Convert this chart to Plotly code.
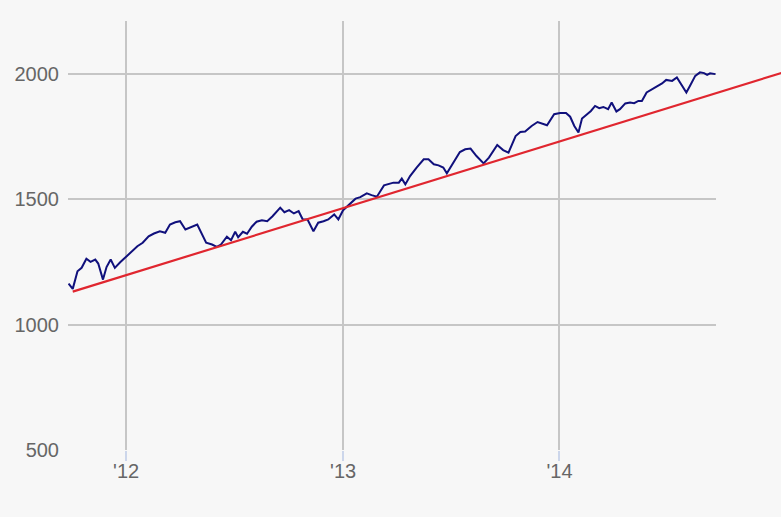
import pandas as pd
import plotly.graph_objects as go

# index values (roughly weekly)
dates = [
    "2011-09-26", "2011-10-03", "2011-10-11", "2011-10-18", "2011-10-26", "2011-11-02",
    "2011-11-10", "2011-11-15", "2011-11-23", "2011-11-29", "2011-12-06", "2011-12-13",
    "2011-12-22", "2012-01-01", "2012-01-11", "2012-01-20", "2012-01-29", "2012-02-08",
    "2012-02-17", "2012-02-27", "2012-03-07", "2012-03-15", "2012-03-24", "2012-04-01",
    "2012-04-10", "2012-04-21", "2012-04-30", "2012-05-15", "2012-05-25", "2012-06-02",
    "2012-06-09", "2012-06-19", "2012-06-26", "2012-07-03", "2012-07-08", "2012-07-16",
    "2012-07-23", "2012-07-31", "2012-08-08", "2012-08-17", "2012-08-26", "2012-09-04",
    "2012-09-17", "2012-09-24", "2012-10-02", "2012-10-10", "2012-10-18", "2012-10-25",
    "2012-11-02", "2012-11-12", "2012-11-20", "2012-11-29", "2012-12-07", "2012-12-17",
    "2012-12-24", "2013-01-01", "2013-01-12", "2013-01-22", "2013-01-30", "2013-02-10",
    "2013-02-18", "2013-02-27", "2013-03-11", "2013-03-19", "2013-03-27", "2013-04-05",
    "2013-04-10", "2013-04-16", "2013-04-24", "2013-05-05", "2013-05-17", "2013-05-25",
    "2013-06-03", "2013-06-11", "2013-06-19", "2013-06-25", "2013-07-06", "2013-07-17",
    "2013-07-26", "2013-08-04", "2013-08-14", "2013-08-26", "2013-09-04", "2013-09-18",
    "2013-09-28", "2013-10-07", "2013-10-19", "2013-10-27", "2013-11-04", "2013-11-15",
    "2013-11-25", "2013-12-05", "2013-12-11", "2013-12-23", "2014-01-02", "2014-01-12",
    "2014-01-19", "2014-01-26", "2014-02-02", "2014-02-08", "2014-02-16", "2014-02-23",
    "2014-03-02", "2014-03-09", "2014-03-16", "2014-03-24", "2014-03-30", "2014-04-07",
    "2014-04-13", "2014-04-22", "2014-04-30", "2014-05-07", "2014-05-14", "2014-05-20",
    "2014-05-28", "2014-06-06", "2014-06-14", "2014-06-23", "2014-06-30", "2014-07-10",
    "2014-07-18", "2014-07-26", "2014-08-03", "2014-08-09", "2014-08-18", "2014-08-26",
    "2014-09-02", "2014-09-07", "2014-09-12", "2014-09-21",
]
values = [
    1164, 1143, 1213, 1227, 1263, 1251,
    1260, 1244, 1180, 1230, 1260, 1227,
    1249, 1271, 1293, 1313, 1327, 1353,
    1364, 1373, 1367, 1400, 1409, 1413,
    1380, 1391, 1400, 1327, 1320, 1311,
    1320, 1351, 1337, 1371, 1349, 1371,
    1363, 1391, 1411, 1417, 1413, 1433,
    1467, 1449, 1457, 1444, 1453, 1420,
    1420, 1373, 1407, 1413, 1420, 1440,
    1420, 1457, 1480, 1503, 1509, 1524,
    1517, 1511, 1556, 1560, 1567, 1567,
    1583, 1560, 1593, 1627, 1660, 1660,
    1640, 1636, 1627, 1604, 1647, 1689,
    1700, 1703, 1673, 1644, 1667, 1717,
    1697, 1687, 1753, 1769, 1771, 1793,
    1809, 1800, 1796, 1840, 1845, 1845,
    1830, 1793, 1767, 1823, 1840, 1853,
    1873, 1864, 1869, 1860, 1887, 1851,
    1860, 1883, 1887, 1884, 1893, 1893,
    1927, 1940, 1953, 1963, 1977, 1973,
    1987, 1956, 1927, 1953, 1993, 2007,
    2004, 1997, 2003, 2000,
]

# trend line end points
trend_dates = ["2011-10-03", "2015-02-10"]
trend_values = [1132, 2027]

x_start, x_end = "2011-09-25", "2014-09-22"
y_range = [500, 2212]
y_ticks = [500, 1000, 1500, 2000]

BG = "#f7f7f7"
GRID = "#c6c6c6"
FONT = dict(family="Liberation Sans, Arial, sans-serif", size=20, color="#666666")

W, H = 781, 517
left, top, bottom = 68, 21, 67
plot_right = 716
main_frac = (plot_right - left) / (W - left)

# second x axis has the same scale but runs to the page edge,
# so the trend line can go past the plot area like in the original
t0, t1 = pd.Timestamp(x_start), pd.Timestamp(x_end)
x2_end = t0 + (t1 - t0) / main_frac

fig = go.Figure()

fig.add_trace(go.Scatter(
    x=dates, y=values, mode="lines",
    line=dict(color="#10107c", width=2),
    xaxis="x", yaxis="y", showlegend=False, hoverinfo="x+y"))

fig.add_trace(go.Scatter(
    x=trend_dates, y=trend_values, mode="lines",
    line=dict(color="#e0262f", width=2.2),
    xaxis="x2", yaxis="y2", showlegend=False, hoverinfo="skip"))

fig.update_layout(
    width=W, height=H,
    margin=dict(l=left, r=0, t=top, b=bottom),
    paper_bgcolor=BG, plot_bgcolor="rgba(0,0,0,0)",
    font=FONT,
    xaxis=dict(
        domain=[0, main_frac], range=[x_start, x_end], type="date",
        tickvals=["2012-01-01", "2013-01-01", "2014-01-01"],
        tickformat="'%y",
        showgrid=True, gridcolor=GRID, gridwidth=2,
        ticks="outside", ticklen=10, tickwidth=2, tickcolor="#ccd6eb",
        showline=False, zeroline=False, fixedrange=True,
        ticklabelstandoff=-7,
    ),
    yaxis=dict(
        range=y_range, tickvals=y_ticks,
        showgrid=True, gridcolor=GRID, gridwidth=2,
        showline=False, zeroline=False, ticks="",
        ticklabelstandoff=8,
    ),
    xaxis2=dict(
        domain=[0, 1], range=[t0, x2_end], type="date",
        anchor="y2", visible=False, showgrid=False,
    ),
    yaxis2=dict(
        domain=[0, 1], range=y_range, anchor="x2",
        visible=False, showgrid=False,
    ),
)

fig.write_html(
    "out.html",
    config={"displayModeBar": False},
    post_script="document.body.style.margin='0';"
                "document.body.style.background='#f7f7f7';",
)
